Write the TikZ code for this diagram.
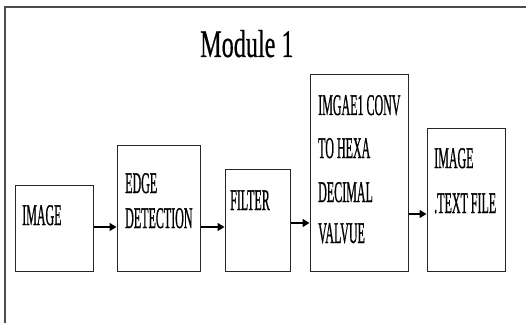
\documentclass[tikz,border=0pt]{standalone}
\usepackage{fontspec}
\setmainfont{Liberation Serif}
\newfontfamily\heavyserif[FakeBold=1.2]{Liberation Serif}
\newfontfamily\titleserif[FakeBold=0.6]{Liberation Serif}
\usetikzlibrary{arrows.meta}
\newcommand\boxtxt[1]{\scalebox{0.40}[1]{\heavyserif\fontsize{30}{30}\selectfont #1}}
\tikzset{
  blk/.style={draw=black!85, line width=1pt, rectangle, inner sep=0pt},
  lbl/.style={anchor=base west, inner sep=0pt},
  flow/.style={line width=1.6pt, -{Triangle[length=7pt,width=8pt]}},
  frame/.style={draw=black!70, line width=1.5pt}
}
\begin{document}
\begin{tikzpicture}[x=1pt,y=-1pt]
\useasboundingbox (0,0) rectangle (526,323);
\coordinate (ftl) at (5,7);
\coordinate (ftr) at (526,7);
\coordinate (fbl) at (5,323);
\draw[frame] (ftr) -- (ftl) -- (fbl);
\node[lbl] (title) at (200,57) {\scalebox{0.62}[1]{\titleserif\fontsize{39}{39}\selectfont Module 1}};
\node[blk, minimum width=78pt, minimum height=86pt] (img) at (54,228) {};
\node[blk, minimum width=83pt, minimum height=126pt] (edge) at (158.5,208) {};
\node[blk, minimum width=65pt, minimum height=102pt] (filt) at (257.5,220) {};
\node[blk, minimum width=98pt, minimum height=196pt] (conv) at (359,173) {};
\node[blk, minimum width=78pt, minimum height=142pt] (txt) at (466,200) {};
\node[lbl] (t1) at (22,225) {\boxtxt{IMAGE}};
\node[lbl] (t2) at (125,193) {\boxtxt{EDGE}};
\node[lbl] (t3) at (125,228) {\boxtxt{DETECTION}};
\node[lbl] (t4) at (230,210) {\boxtxt{FILTER}};
\node[lbl] (t5) at (318,115) {\boxtxt{IMGAE1 CONV}};
\node[lbl] (t6) at (318,158) {\boxtxt{TO HEXA}};
\node[lbl] (t7) at (318,202) {\boxtxt{DECIMAL}};
\node[lbl] (t8) at (318,243) {\boxtxt{VALVUE}};
\node[lbl] (t9) at (434,168) {\boxtxt{IMAGE}};
\node[lbl] (t10) at (434,213) {\boxtxt{.TEXT FILE}};
\draw[flow] (img.east |- 0,227) -- (edge.west |- 0,227);
\draw[flow] (edge.east |- 0,227) -- (filt.west |- 0,227);
\draw[flow] (filt.east |- 0,223) -- (conv.west |- 0,223);
\draw[flow] (conv.east |- 0,214) -- (txt.west |- 0,214);
\end{tikzpicture}
\end{document}
